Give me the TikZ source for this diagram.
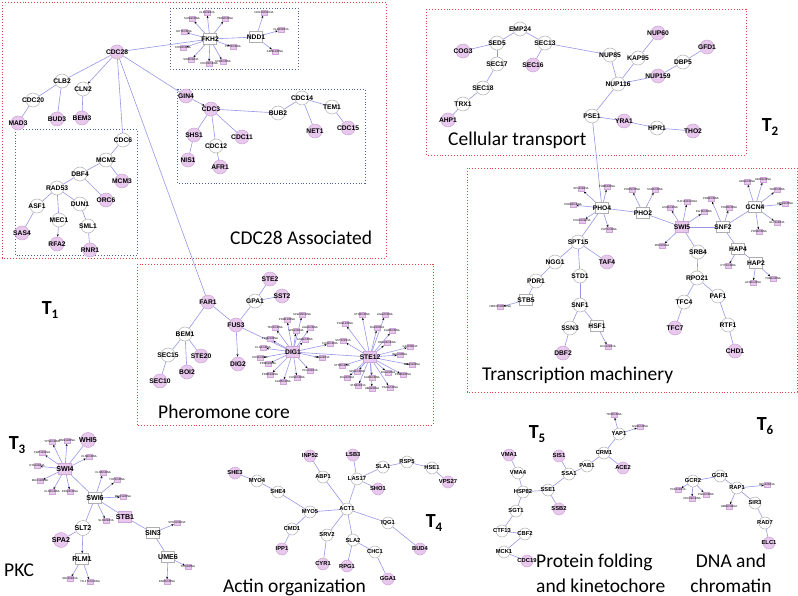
\documentclass[tikz,border=0pt]{standalone}
\usepackage{fontspec}
\setmainfont{Carlito}
\newfontfamily\gfont{Liberation Sans}
\usetikzlibrary{arrows.meta,backgrounds}
\definecolor{edgec}{RGB}{150,150,232}
\definecolor{pinkf}{RGB}{232,200,236}
\definecolor{pinkd}{RGB}{205,165,215}
\definecolor{greyd}{RGB}{175,175,175}
\definecolor{redb}{RGB}{225,70,70}
\definecolor{blueb}{RGB}{80,95,150}
\newcommand\nd[4]{\node[#1,label={center:#4}] (#2) at (#3) {};}
\newcommand\st[3]{\node[sat,label={[font=\gfont\fontsize{2.8}{3}\selectfont,inner sep=0pt]center:#3}] (#1) at (#2) {};}
\newcommand\Lk[2]{\draw[edg] (#1) -- (#2);}
\newcommand\Ak[2]{\draw[edga] (#1) -- (#2);}
\newcommand\Tl[1]{T\raisebox{-4.5pt}{\fontsize{13}{13}\selectfont #1}}
\tikzset{
 wt/.style={circle,draw=greyd,fill=white,minimum size=14pt,inner sep=0pt,line width=0.5pt},
 pk/.style={wt,draw=pinkd,fill=pinkf},
 hw/.style={rectangle,draw=greyd,fill=white,minimum width=13pt,minimum height=11pt,inner sep=0pt,line width=0.5pt},
 hp/.style={hw,draw=pinkd,fill=pinkf},
 sat/.style={rectangle,draw=pinkd,fill=pinkf,minimum width=6pt,minimum height=5pt,inner sep=0pt,line width=0.3pt},
 edg/.style={draw=edgec,line width=0.6pt},
 edga/.style={edg,-{Stealth[length=2.6pt,width=2pt,color=black]}},
 redbox/.style={draw=redb,dotted,line width=0.9pt},
 bluebox/.style={draw=blueb,dotted,line width=0.9pt},
 title/.style={font=\fontsize{19.5}{25}\selectfont,inner sep=0pt},
 tlab/.style={font=\bfseries\fontsize{20}{22}\selectfont,inner sep=0pt},
 lbig/.style={every label/.style={font=\gfont\bfseries\fontsize{6.7}{7}\selectfont,inner sep=0pt}},
 lpkc/.style={every label/.style={font=\gfont\bfseries\fontsize{7.1}{7.5}\selectfont,inner sep=0pt}},
 lsml/.style={every label/.style={font=\gfont\bfseries\fontsize{5.8}{6}\selectfont,inner sep=0pt},
   wt/.append style={minimum size=12pt}},
}
\begin{document}
\begin{tikzpicture}[x=1pt,y=-1pt]
\useasboundingbox (0,0) rectangle (798,596);

% ---------------- CDC28 associated ----------------
\begin{scope}[lbig]
\nd{pk}{CDC28}{117,52}{CDC28}
\nd{wt}{CLB2}{62,81}{CLB2}
\nd{wt}{CLN2}{83,89}{CLN2}
\nd{wt}{CDC20}{33,100}{CDC20}
\nd{pk}{MAD3}{18,123}{MAD3}
\nd{pk}{BUD3}{57,119}{BUD3}
\nd{pk}{BEM3}{82,118}{BEM3}
\nd{wt}{CDC6}{123,140}{CDC6}
\nd{wt}{MCM2}{106,160}{MCM2}
\nd{pk}{MCM3}{122,181}{MCM3}
\nd{wt}{DBF4}{80,174}{DBF4}
\nd{wt}{RAD53}{57,188}{RAD53}
\nd{pk}{ORC6}{106,200}{ORC6}
\nd{wt}{ASF1}{37,206}{ASF1}
\nd{wt}{DUN1}{80,204}{DUN1}
\nd{wt}{MEC1}{59,220}{MEC1}
\nd{wt}{SML1}{88,226}{SML1}
\nd{pk}{SAS4}{22,233}{SAS4}
\nd{pk}{RFA2}{57,244}{RFA2}
\nd{pk}{RNR1}{90,250}{RNR1}
\nd{pk}{GIN4}{186,96}{GIN4}
\nd{pk}{CDC3}{211,109}{CDC3}
\nd{wt}{BUB2}{278,113}{BUB2}
\nd{wt}{CDC14}{302,98}{CDC14}
\nd{wt}{TEM1}{332,107}{TEM1}
\nd{pk}{NET1}{315,131}{NET1}
\nd{pk}{CDC15}{348,128}{CDC15}
\nd{pk}{SHS1}{194,135}{SHS1}
\nd{pk}{CDC11}{242,137}{CDC11}
\nd{wt}{CDC12}{216,146}{CDC12}
\nd{pk}{NIS1}{188,160}{NIS1}
\nd{pk}{AFR1}{220,167}{AFR1}
\nd{hw}{FKH2}{210,39}{FKH2}
\nd{hw}{NDD1}{256,37}{NDD1}
\end{scope}
\st{f1}{207,13}{CLB1mRNA}
\st{f2}{192,19}{SUN4mRNA}
\st{f3}{225,19}{YRO2mRNA}
\st{f4}{184,32}{HHT1mRNA}
\st{f5}{183,48}{CHS3mRNA}
\st{f6}{233,47}{PRY2mRNA}
\st{f7}{191,60}{SWI5mRNA}
\st{f8}{209,64}{CDC20mRNA}
\st{f9}{223,62}{ACE2mRNA}
\st{n1}{264,13}{NCE102mRNA}
\st{n2}{281,30}{CLB2mRNA}
\st{n3}{275,52}{AMN1mRNA}
\node[title,anchor=west] (tcdc) at (230,238) {CDC28 Associated};

% ---------------- Cellular transport ----------------
\begin{scope}[lbig]
\nd{wt}{EMP24}{520,29}{EMP24}
\nd{wt}{SED5}{497,43}{SED5}
\nd{pk}{COG3}{463,51}{COG3}
\nd{wt}{SEC13}{545,43}{SEC13}
\nd{pk}{SEC16}{533,65}{SEC16}
\nd{wt}{SEC17}{497,64}{SEC17}
\nd{wt}{SEC18}{483,88}{SEC18}
\nd{wt}{TRX1}{463,104}{TRX1}
\nd{pk}{AHP1}{448,120}{AHP1}
\nd{wt}{NUP85}{610,55}{NUP85}
\nd{pk}{NUP60}{658,33}{NUP60}
\nd{wt}{KAP95}{638,58}{KAP95}
\nd{pk}{GFD1}{707,47}{GFD1}
\nd{wt}{DBP5}{683,62}{DBP5}
\nd{pk}{NUP159}{658,76}{NUP159}
\nd{wt}{NUP116}{618,84}{NUP116}
\nd{wt}{PSE1}{592,116}{PSE1}
\nd{pk}{YRA1}{624,121}{YRA1}
\nd{wt}{HPR1}{657,128}{HPR1}
\nd{pk}{THO2}{693,131}{THO2}
\end{scope}
\node[title,anchor=west] (tcell) at (448,140) {Cellular transport};
\node[tlab] (T2) at (770,127) {\Tl{2}};

% ---------------- Transcription machinery ----------------
\begin{scope}[lbig]
\nd{hw}{PHO4}{602,208}{PHO4}
\nd{hw}{PHO2}{643,213}{PHO2}
\nd{hp}{SWI5}{682,227}{SWI5}
\nd{hw}{SNF2}{723,227}{SNF2}
\nd{hw}{GCN4}{755,207}{GCN4}
\nd{wt}{SPT15}{578,242}{SPT15}
\nd{wt}{NGG1}{555,262}{NGG1}
\nd{pk}{TAF4}{607,262}{TAF4}
\nd{wt}{STD1}{580,276}{STD1}
\nd{wt}{PDR1}{536,281}{PDR1}
\nd{hw}{STB5}{526,300}{STB5}
\nd{wt}{SNF1}{580,305}{SNF1}
\nd{wt}{SSN3}{570,328}{SSN3}
\nd{hw}{HSF1}{597,326}{HSF1}
\nd{pk}{DBF2}{563,353}{DBF2}
\nd{wt}{SRB4}{698,252}{SRB4}
\nd{wt}{RPO21}{697,278}{RPO21}
\nd{wt}{TFC4}{684,302}{TFC4}
\nd{wt}{PAF1}{718,296}{PAF1}
\nd{pk}{TFC7}{675,328}{TFC7}
\nd{wt}{RTF1}{728,325}{RTF1}
\nd{pk}{CHD1}{735,351}{CHD1}
\nd{hw}{HAP4}{738,249}{HAP4}
\nd{hw}{HAP2}{756,263}{HAP2}
\end{scope}
\st{p1}{581,189}{SPL2mRNA}
\st{p2}{607,187}{PHM6mRNA}
\st{p3}{573,205}{PHO84mRNA}
\st{p4}{582,221}{PHO11mRNA}
\st{p5}{609,230}{PUT1mRNA}
\st{q1}{632,190}{PHO5mRNA}
\st{q2}{655,190}{SSD1mRNA}
\st{w1}{687,202}{YLR194CmRNA}
\st{w2}{670,208}{ASH1mRNA}
\st{w3}{704,212}{EGT2mRNA}
\st{w4}{662,246}{PIR1mRNA}
\st{k1}{711,199}{PRB1mRNA}
\st{k2}{729,208}{PHO8mRNA}
\st{g1}{747,182}{ARG1mRNA}
\st{g2}{763,180}{ARO3mRNA}
\st{g3}{777,190}{TRP4mRNA}
\st{g4}{785,204}{ARG4mRNA}
\st{g5}{777,223}{GLY1mRNA}
\st{g6}{759,232}{PRS3mRNA}
\st{h1}{728,266}{CYT1mRNA}
\st{h2}{753,283}{ACO1mRNA}
\st{h3}{773,279}{YHB1mRNA}
\st{b1}{500,307}{YMR315WmRNA}
\st{e1}{608,347}{ECL1mRNA}
\node[title,anchor=west] (ttrans) at (482,375) {Transcription machinery};

% ---------------- Pheromone core ----------------
\begin{scope}[lbig]
\nd{pk}{FAR1}{208,302}{FAR1}
\nd{pk}{STE2}{270,279}{STE2}
\nd{pk}{SST2}{282,296}{SST2}
\nd{wt}{GPA1}{255,301}{GPA1}
\nd{pk}{FUS3}{236,325}{FUS3}
\nd{wt}{BEM1}{185,334}{BEM1}
\nd{wt}{SEC15}{168,355}{SEC15}
\nd{pk}{STE20}{201,356}{STE20}
\nd{pk}{BOI2}{187,372}{BOI2}
\nd{pk}{DIG2}{238,364}{DIG2}
\nd{pk}{SEC10}{160,381}{SEC10}
\nd{hp}{DIG1}{293,352}{DIG1}
\nd{hp}{STE12}{370,357}{STE12}
\end{scope}
\st{d1}{302,315}{SCW10mRNA}
\st{d2}{287,320}{PRM1mRNA}
\st{d3}{275,328}{TEC1mRNA}
\st{d4}{296,331}{SPA1mRNA}
\st{d5}{310,328}{AGA1mRNA}
\st{d6}{270,339}{PRM2mRNA}
\st{d7}{305,340}{KAR4mRNA}
\st{d8}{263,348}{CLG1mRNA}
\st{d9}{330,344}{FUS1mRNA}
\st{d10}{260,358}{CHS1mRNA}
\st{d11}{322,358}{JHA1mRNA}
\st{d12}{268,364}{PRM3mRNA}
\st{d13}{270,375}{PRM5mRNA}
\st{d14}{283,382}{KAR5mRNA}
\st{d15}{297,378}{FUS2mRNA}
\st{d16}{310,371}{PCL2mRNA}
\st{s1}{362,315}{KTR2mRNA}
\st{s2}{385,315}{AGA2mRNA}
\st{s3}{345,324}{POG1mRNA}
\st{s4}{377,328}{FIG2mRNA}
\st{s5}{392,331}{KAR3mRNA}
\st{s6}{343,341}{SST2mRNA}
\st{s7}{387,343}{ERG24mRNA}
\st{s8}{410,347}{GIC2mRNA}
\st{s9}{400,355}{BIG1mRNA}
\st{s10}{412,365}{MSG5mRNA}
\st{s11}{342,366}{KTR3mRNA}
\st{s12}{357,372}{GPA1mRNA}
\st{s13}{372,378}{KAR2mRNA}
\st{s14}{388,373}{FIG1mRNA}
\st{s15}{403,375}{PRM6mRNA}
\st{s16}{347,378}{FIG4mRNA}
\st{s17}{358,386}{STE4mRNA}
\st{s18}{372,389}{UBI4mRNA}
\st{s19}{390,388}{PGU1mRNA}
\node[title,anchor=west] (tpher) at (158,412) {Pheromone core};
\node[tlab] (T1) at (50,310) {\Tl{1}};

% ---------------- PKC ----------------
\begin{scope}[lpkc,wt/.append style={minimum size=15pt}]
\nd{pk}{WHI5}{88,440}{WHI5}
\nd{hp}{SWI4}{65,469}{SWI4}
\nd{hw}{SWI6}{95,498}{SWI6}
\nd{hp}{STB1}{125,517}{STB1}
\nd{wt}{SLT2}{83,528}{SLT2}
\nd{pk}{SPA2}{61,540}{SPA2}
\nd{hw}{SIN3}{153,533}{SIN3}
\nd{hw}{RLM1}{82,559}{RLM1}
\nd{hw}{UME6}{168,557}{UME6}
\end{scope}
\st{a1}{52,442}{YPS1mRNA}
\st{a2}{67,441}{MNN1mRNA}
\st{a3}{42,453}{CWP1mRNA}
\st{a4}{37,466}{HTA1mRNA}
\st{a5}{40,481}{MUC1mRNA}
\st{a6}{52,492}{CLN1mRNA}
\st{a7}{70,492}{ERG3mRNA}
\st{a8}{89,457}{CLN2mRNA}
\st{v1}{103,473}{CLN3mRNA}
\st{v2}{117,480}{YHP1mRNA}
\st{v3}{123,497}{MCD1mRNA}
\st{v4}{106,521}{SLD2mRNA}
\st{c1}{177,523}{SPO11mRNA}
\st{r1}{70,579}{SRL3mRNA}
\st{r2}{90,582}{YJL171CmRNA}
\st{u1}{188,567}{SIT1mRNA}
\st{u2}{167,582}{ENO1mRNA}
\node[tlab] (T3) at (17,445) {\Tl{3}};
\node[title,anchor=west] (tpkc) at (4,570) {PKC};

% ---------------- Actin organization ----------------
\begin{scope}[lsml]
\nd{pk}{INP52}{310,456}{INP52}
\nd{pk}{LSB3}{353,455}{LSB3}
\nd{wt}{SLA1}{383,467}{SLA1}
\nd{wt}{RSP5}{407,462}{RSP5}
\nd{wt}{HSE1}{432,468}{HSE1}
\nd{pk}{VPS27}{448,482}{VPS27}
\nd{pk}{SHE3}{235,473}{SHE3}
\nd{wt}{MYO4}{257,481}{MYO4}
\nd{wt}{ABP1}{323,477}{ABP1}
\nd{wt}{LAS17}{357,479}{LAS17}
\nd{pk}{SHO1}{378,489}{SHO1}
\nd{wt}{SHE4}{278,492}{SHE4}
\nd{wt}{MYO5}{310,512}{MYO5}
\nd{wt}{ACT1}{347,509}{ACT1}
\nd{wt}{IQG1}{388,523}{IQG1}
\nd{wt}{CMD1}{292,529}{CMD1}
\nd{wt}{SRV2}{327,535}{SRV2}
\nd{wt}{SLA2}{353,540}{SLA2}
\nd{pk}{IPP1}{282,549}{IPP1}
\nd{wt}{CHC1}{375,552}{CHC1}
\nd{pk}{BUD4}{420,549}{BUD4}
\nd{pk}{CYR1}{323,564}{CYR1}
\nd{pk}{RPG1}{347,566}{RPG1}
\nd{pk}{GGA1}{388,579}{GGA1}
\end{scope}
\node[tlab] (T4) at (434,523) {\Tl{4}};
\node[title,anchor=west] (tact) at (223,587) {Actin organization};

% ---------------- Protein folding ----------------
\begin{scope}[lsml]
\nd{pk}{VMA1}{509,455}{VMA1}
\nd{wt}{VMA4}{518,473}{VMA4}
\nd{wt}{HSP82}{523,492}{HSP82}
\nd{wt}{SSE1}{548,490}{SSE1}
\nd{pk}{SIS1}{559,456}{SIS1}
\nd{wt}{SSA1}{569,474}{SSA1}
\nd{wt}{PAB1}{587,466}{PAB1}
\nd{wt}{CRM1}{604,453}{CRM1}
\nd{pk}{ACE2}{623,468}{ACE2}
\nd{wt}{YAP1}{619,434}{YAP1}
\nd{pk}{SSB2}{559,509}{SSB2}
\nd{wt}{SGT1}{516,511}{SGT1}
\nd{wt}{CTF13}{502,531}{CTF13}
\nd{wt}{CBF2}{525,534}{CBF2}
\nd{wt}{MCK1}{504,552}{MCK1}
\nd{pk}{CDC19}{527,561}{CDC19}
\nd{wt}{GCR2}{693,481}{GCR2}
\nd{wt}{GCR1}{720,476}{GCR1}
\nd{wt}{RAP1}{737,488}{RAP1}
\nd{wt}{SIR3}{755,503}{SIR3}
\nd{wt}{RAD7}{765,523}{RAD7}
\nd{pk}{ELC1}{769,543}{ELC1}
\end{scope}
\st{y1}{614,415}{TRX2mRNA}
\st{y2}{640,427}{GSH1mRNA}
\st{x1}{678,490}{PFK1mRNA}
\st{x2}{692,499}{CDC19mRNA}
\st{x3}{706,495}{PGK1mRNA}
\st{z1}{767,485}{RPL3mRNA}
\st{z2}{729,507}{HMRAmRNA}
\node[tlab] (T5) at (537,434) {\Tl{5}};
\node[tlab] (T6) at (765,426) {\Tl{6}};
\node[title,anchor=west,align=left] (tprot) at (536,573.5) {Protein folding\\and kinetochore};
\node[title,align=center] (tdna) at (731,573.5) {DNA and\\chromatin};

% ---------------- boxes and connectors ----------------
\begin{scope}[on background layer]
\draw[redbox] (2,2) rectangle (386,258);
\draw[bluebox] (15,129) rectangle (137,255);
\draw[bluebox] (170,8) rectangle (298,69);
\draw[bluebox] (177,89) rectangle (365,183);
\draw[redbox] (426,9) rectangle (746,155);
\draw[redbox] (467,168) rectangle (797,392);
\draw[redbox] (137,264) rectangle (433,425);

\Lk{CDC28}{CLB2} \Ak{CDC28}{CLN2} \Lk{CDC28}{CDC6} \Lk{CDC28}{GIN4} \Lk{CDC28}{FKH2} \Lk{CDC28}{FAR1}
\Lk{CLB2}{CDC20} \Lk{CLB2}{BUD3} \Lk{CDC20}{MAD3} \Lk{CLN2}{BEM3}
\Lk{CDC6}{MCM2} \Lk{MCM2}{DBF4} \Lk{MCM2}{MCM3} \Lk{DBF4}{RAD53} \Lk{DBF4}{ORC6}
\Lk{RAD53}{ASF1} \Lk{RAD53}{MEC1} \Lk{RAD53}{DUN1} \Lk{ASF1}{SAS4} \Ak{MEC1}{RFA2}
\Lk{DUN1}{SML1} \Lk{SML1}{RNR1}
\Ak{GIN4}{CDC3} \Lk{CDC3}{SHS1} \Lk{CDC3}{CDC12} \Lk{CDC3}{CDC11} \Lk{CDC3}{BUB2}
\Lk{BUB2}{CDC14} \Lk{CDC14}{NET1} \Lk{CDC14}{TEM1} \Lk{TEM1}{CDC15} \Lk{SHS1}{NIS1} \Lk{CDC12}{AFR1}
\Lk{FKH2}{NDD1}
\foreach \s in {f1,f2,f3,f4,f5,f6,f7,f8,f9} {\Ak{FKH2}{\s}}
\foreach \s in {n1,n2,n3} {\Ak{NDD1}{\s}}

\Lk{EMP24}{SED5} \Lk{EMP24}{SEC13} \Lk{SED5}{COG3} \Lk{SED5}{SEC17} \Lk{SEC17}{SEC18}
\Lk{SEC18}{TRX1} \Lk{TRX1}{AHP1} \Lk{SEC13}{SEC16} \Lk{SEC13}{NUP85} \Lk{NUP85}{NUP116}
\Lk{NUP116}{KAP95} \Lk{KAP95}{NUP60} \Lk{NUP116}{NUP159} \Lk{NUP159}{DBP5} \Lk{DBP5}{GFD1}
\Lk{NUP116}{PSE1} \Lk{PSE1}{YRA1} \Lk{YRA1}{HPR1} \Lk{HPR1}{THO2} \Lk{PSE1}{PHO4}

\Lk{PHO4}{PHO2} \Lk{PHO2}{SWI5} \Lk{SWI5}{SNF2} \Lk{SNF2}{GCN4} \Lk{PHO4}{SPT15}
\Lk{SPT15}{NGG1} \Lk{SPT15}{TAF4} \Lk{SPT15}{STD1} \Lk{NGG1}{PDR1} \Lk{PDR1}{STB5}
\Lk{STD1}{SNF1} \Lk{SNF1}{SSN3} \Lk{SNF1}{HSF1} \Lk{SSN3}{DBF2} \Lk{SWI5}{SRB4}
\Lk{SRB4}{RPO21} \Lk{RPO21}{TFC4} \Lk{RPO21}{PAF1} \Lk{TFC4}{TFC7} \Lk{PAF1}{RTF1}
\Lk{RTF1}{CHD1} \Lk{SNF2}{HAP4} \Lk{HAP4}{HAP2}
\foreach \s in {p1,p2,p3,p4,p5} {\Ak{PHO4}{\s}}
\foreach \s in {q1,q2} {\Ak{PHO2}{\s}}
\foreach \s in {w1,w2,w3,w4} {\Ak{SWI5}{\s}}
\foreach \s in {k1,k2} {\Ak{SNF2}{\s}}
\foreach \s in {g1,g2,g3,g4,g5,g6} {\Ak{GCN4}{\s}}
\Ak{HAP4}{h1} \Ak{HAP2}{h2} \Ak{HAP2}{h3} \Ak{STB5}{b1} \Ak{HSF1}{e1}

\Lk{FAR1}{BEM1} \Lk{FAR1}{FUS3} \Lk{FUS3}{GPA1} \Lk{GPA1}{STE2} \Lk{GPA1}{SST2}
\Ak{FUS3}{DIG2} \Lk{FUS3}{DIG1} \Lk{DIG1}{STE12} \Lk{BEM1}{SEC15} \Lk{BEM1}{BOI2}
\Lk{BEM1}{STE20} \Lk{SEC15}{SEC10}
\foreach \s in {d1,d2,d3,d4,d5,d6,d7,d8,d9,d10,d11,d12,d13,d14,d15,d16} {\Ak{DIG1}{\s}}
\foreach \s in {s1,s2,s3,s4,s5,s6,s7,s8,s9,s10,s11,s12,s13,s14,s15,s16,s17,s18,s19} {\Ak{STE12}{\s}}

\Lk{SWI4}{SWI6} \Lk{SWI4}{WHI5} \Lk{SWI6}{SLT2} \Lk{SWI6}{STB1} \Lk{STB1}{SIN3}
\Lk{SIN3}{UME6} \Lk{SLT2}{SPA2} \Ak{SLT2}{RLM1}
\foreach \s in {a1,a2,a3,a4,a5,a6,a7,a8} {\Ak{SWI4}{\s}}
\foreach \s in {v1,v2,v3,v4} {\Ak{SWI6}{\s}}
\Ak{SIN3}{c1} \Ak{RLM1}{r1} \Ak{RLM1}{r2} \Ak{UME6}{u1} \Ak{UME6}{u2}

\Lk{ACT1}{MYO5} \Lk{MYO5}{SHE4} \Lk{SHE4}{MYO4} \Lk{MYO4}{SHE3} \Lk{MYO5}{CMD1}
\Lk{CMD1}{IPP1} \Lk{ACT1}{ABP1} \Lk{ABP1}{INP52} \Lk{ACT1}{LAS17} \Lk{LAS17}{LSB3}
\Lk{LAS17}{SHO1} \Lk{LAS17}{SLA1} \Lk{SLA1}{RSP5} \Lk{RSP5}{HSE1} \Lk{HSE1}{VPS27}
\Lk{ACT1}{IQG1} \Lk{IQG1}{BUD4} \Lk{ACT1}{SRV2} \Lk{SRV2}{CYR1} \Lk{ACT1}{SLA2}
\Lk{SLA2}{RPG1} \Lk{SLA2}{CHC1} \Lk{CHC1}{GGA1}

\Lk{VMA1}{VMA4} \Lk{VMA4}{HSP82} \Lk{HSP82}{SSE1} \Lk{HSP82}{SGT1} \Lk{SSE1}{SSA1}
\Lk{SSE1}{SSB2} \Lk{SSA1}{SIS1} \Lk{SSA1}{PAB1} \Lk{PAB1}{CRM1} \Lk{CRM1}{ACE2}
\Lk{CRM1}{YAP1} \Ak{YAP1}{y1} \Ak{YAP1}{y2} \Lk{SGT1}{CTF13} \Lk{CTF13}{CBF2}
\Lk{CBF2}{MCK1} \Lk{MCK1}{CDC19}
\Lk{GCR2}{GCR1} \Lk{GCR1}{RAP1} \Lk{RAP1}{SIR3} \Lk{SIR3}{RAD7} \Lk{RAD7}{ELC1}
\Ak{GCR2}{x1} \Ak{GCR2}{x2} \Ak{GCR2}{x3} \Ak{RAP1}{z1} \Ak{RAP1}{z2}
\end{scope}
\end{tikzpicture}
\end{document}
